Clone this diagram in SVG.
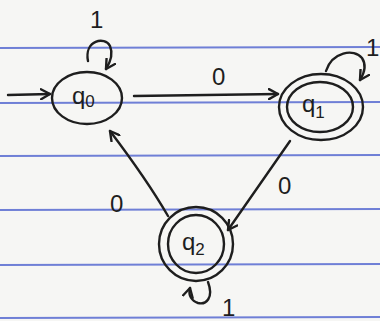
<svg xmlns="http://www.w3.org/2000/svg" width="380" height="321" viewBox="0 0 380 321">
<style>
.ink{fill:none;stroke:#1e1e1e;stroke-width:2.4;stroke-linecap:round;stroke-linejoin:round}
.rule{stroke:#6f7fd6;stroke-width:2}
.lbl{font-family:"Liberation Sans",Arial,sans-serif;font-size:24px;fill:#1e1e1e}
.st{font-family:"Liberation Sans",Arial,sans-serif;font-size:24px;fill:#1e1e1e}
.sub{font-size:17px}
</style>
<defs>
<marker id="ah" markerWidth="12" markerHeight="12" refX="10" refY="6" orient="auto" markerUnits="userSpaceOnUse">
<path d="M1,1 L10,6 L1,11" fill="none" stroke="#1e1e1e" stroke-width="2.4" stroke-linecap="round" stroke-linejoin="round"/>
</marker>
</defs>
<rect width="380" height="321" fill="#f6f6f4"/>
<g id="paper">
<line class="rule" x1="0" y1="48" x2="380" y2="47"/>
<line class="rule" x1="0" y1="103" x2="380" y2="102"/>
<line class="rule" x1="0" y1="156" x2="380" y2="155"/>
<line class="rule" x1="0" y1="210" x2="380" y2="209"/>
<line class="rule" x1="0" y1="265" x2="380" y2="264"/>
<line class="rule" x1="0" y1="318" x2="380" y2="317"/>
</g>
<g id="connectors">
<path class="ink" d="M8,95 L50,94" marker-end="url(#ah)"/>
<path class="ink" d="M88,61 C84,40 105,36 110,46 C113,53 111,61 106,69" marker-end="url(#ah)"/>
<path class="ink" d="M134,96 L278,94" marker-end="url(#ah)"/>
<path class="ink" d="M326,71 C332,52 354,48 362,58 C366,64 365,72 360,80" marker-end="url(#ah)"/>
<path class="ink" d="M290,141 L228,230" marker-end="url(#ah)"/>
<path class="ink" d="M168,216 C150,185 132,160 110,131" marker-end="url(#ah)"/>
<path class="ink" d="M208,282 C214,298 206,305 198,303 C192,301 188,296 190,288" marker-end="url(#ah)"/>
</g>
<g id="q0">
<ellipse class="ink" cx="87" cy="98" rx="35" ry="26"/>
<text class="st" x="72" y="104">q<tspan class="sub" dy="3">0</tspan></text>
</g>
<g id="q1">
<ellipse class="ink" cx="321" cy="107" rx="42" ry="33"/>
<ellipse class="ink" cx="320" cy="107" rx="33" ry="25"/>
<text class="st" x="302" y="112">q<tspan class="sub" dy="6">1</tspan></text>
</g>
<g id="q2">
<ellipse class="ink" cx="196" cy="244" rx="37" ry="37"/>
<ellipse class="ink" cx="196" cy="244" rx="28" ry="29"/>
<text class="st" x="182" y="250">q<tspan class="sub" dy="5">2</tspan></text>
</g>
<g id="labels">
<text class="lbl" x="90" y="28">1</text>
<text class="lbl" x="212" y="85">0</text>
<text class="lbl" x="366" y="56">1</text>
<text class="lbl" x="278" y="194">0</text>
<text class="lbl" x="110" y="212">0</text>
<text class="lbl" x="222" y="316">1</text>
</g>
</svg>
